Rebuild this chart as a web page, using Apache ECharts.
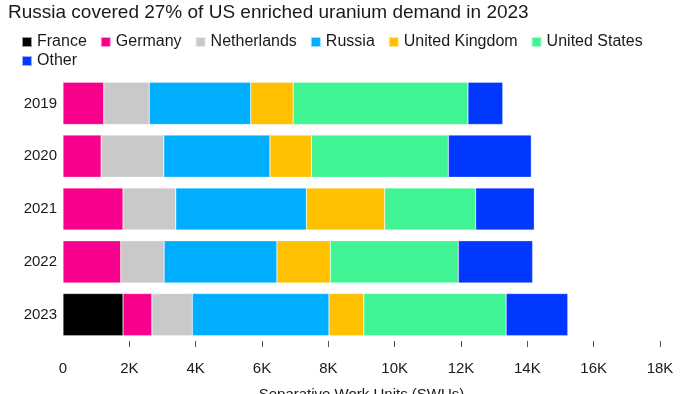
<!DOCTYPE html>
<html><head><meta charset="utf-8">
<script src="https://cdn.jsdelivr.net/npm/echarts@6/dist/echarts.min.js"></script>
<style>html,body{margin:0;padding:0;background:#fff}#c{width:700px;height:394px}</style>
</head><body><div id="c"></div>
<script>
const years = ['2019','2020','2021','2022','2023'];
const france      = [0, 0, 0, 0, 1810];
const germany     = [1230, 1150, 1810, 1740, 870];
const netherlands = [1370, 1890, 1590, 1310, 1220];
const russia      = [3060, 3200, 3940, 3400, 4120];
const uk          = [1280, 1250, 2360, 1610, 1050];
const us          = [5270, 4130, 2740, 3860, 4290];
const other       = [1050, 2500, 1770, 2240, 1860];
const xTicks = [2000,4000,6000,8000,10000,12000,14000,16000,18000];

const seriesDefs = [
  ['France', france, '#000000'],
  ['Germany', germany, '#f7008b'],
  ['Netherlands', netherlands, '#c9c9c9'],
  ['Russia', russia, '#00aeff'],
  ['United Kingdom', uk, '#ffc000'],
  ['United States', us, '#40f494'],
  ['Other', other, '#0038ff']
];
const FONT = 'Liberation Sans, Arial, sans-serif';
const legendBase = {
  itemWidth: 10, itemHeight: 10, itemGap: 13, icon: 'rect', padding: 0,
  textStyle: {fontSize: 16, color: '#1a1a1a', fontFamily: FONT}
};
const chart = echarts.init(document.getElementById('c'), null, {renderer:'canvas'});
chart.setOption({
  animation: false,
  textStyle: {fontFamily: FONT},
  title: {
    text: 'Russia covered 27% of US enriched uranium demand in 2023',
    left: 8, top: 3, padding: 0,
    textStyle: {fontSize: 19, fontWeight: 'normal', color: '#1a1a1a', fontFamily: FONT}
  },
  legend: [
    Object.assign({}, legendBase, {left: 21, top: 34, data: seriesDefs.slice(0, 6).map(s => s[0])}),
    Object.assign({}, legendBase, {left: 21, top: 53, data: seriesDefs.slice(6).map(s => s[0])})
  ],
  grid: {left: 63, right: 40, top: 77, bottom: 53, containLabel: false, outerBoundsMode: 'none'},
  xAxis: {
    type: 'value', min: 0, max: 18000, interval: 2000,
    splitLine: {show: false},
    axisLine: {show: false},
    axisTick: {show: true, length: 6, lineStyle: {color: '#555'}, customValues: xTicks},
    axisLabel: {
      fontSize: 15, color: '#1a1a1a', margin: 20,
      formatter: v => v === 0 ? '0' : (v/1000) + 'K'
    },
    name: 'Separative Work Units (SWUs)',
    nameLocation: 'middle', nameGap: 46,
    nameTextStyle: {fontSize: 15, color: '#1a1a1a'}
  },
  yAxis: {
    type: 'category', data: years, inverse: true,
    axisLine: {show: false}, axisTick: {show: false},
    axisLabel: {fontSize: 15, color: '#1a1a1a', margin: 6}
  },
  series: seriesDefs.map(([name, data, color]) => ({
    name, type: 'bar', stack: 'total', data,
    barCategoryGap: '20%',
    itemStyle: {color, borderColor: 'rgba(255,255,255,0.6)', borderWidth: 0.5},
    emphasis: {disabled: true}
  }))
});
</script></body></html>
